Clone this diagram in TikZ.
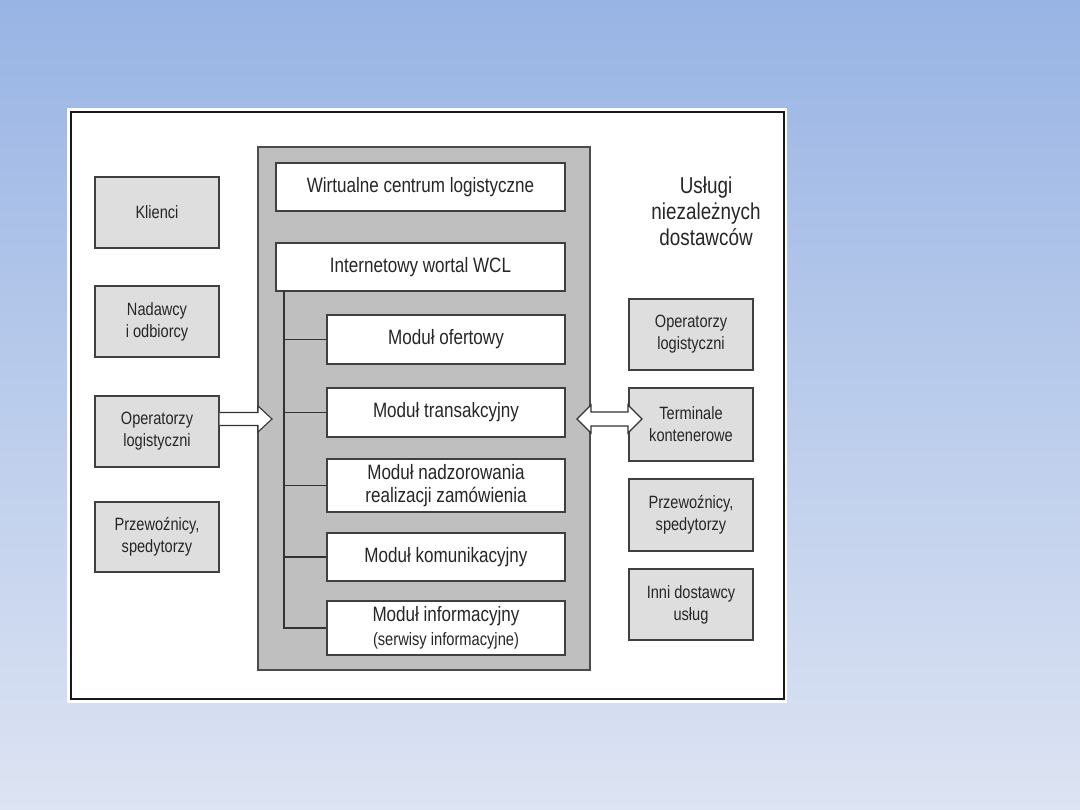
\documentclass[tikz,border=0pt]{standalone}
\usepackage{fontspec}
\setmainfont{Liberation Sans}[FakeStretch=0.82]
\begin{document}
\begin{tikzpicture}[x=1pt,y=-1pt,
  every node/.style={text=black!85},
  bigbox/.style={draw=black!75,line width=1.1pt,fill=white,inner sep=0pt,align=center,
    font=\fontsize{20.8}{23.5}\selectfont},
  sidebox/.style={draw=black!75,line width=1.1pt,fill=black!13,inner sep=0pt,align=center,
    minimum width=124pt,font=\fontsize{17.8}{22}\selectfont},
  conn/.style={draw=black!80,line width=1.1pt},
  hollow/.style={draw=black!80,line width=1.1pt,fill=white,line join=miter}]
\useasboundingbox (0,0) rectangle (1080,810);
% background gradient
\shade[top color={rgb,255:red,152;green,180;blue,228},bottom color={rgb,255:red,221;green,228;blue,243}] (0,0) rectangle (1080,810);
% white panel and frame
\fill[white] (67,108) rectangle (787,703);
\draw[black!90,line width=2pt] (71,112) rectangle (784,699);
% grey central panel
\draw[fill=black!25,draw=black!70,line width=1.1pt] (258,147) rectangle (590,670);
% central boxes
\node[bigbox,minimum width=289pt,minimum height=48pt] (wcl) at (420.5,187) {Wirtualne centrum logistyczne};
\node[bigbox,minimum width=289pt,minimum height=48pt] (portal) at (420.5,267) {Internetowy wortal WCL};
\node[bigbox,minimum width=238pt,minimum height=49pt] (m1) at (446,339.5) {Moduł ofertowy};
\node[bigbox,minimum width=238pt,minimum height=49pt] (m2) at (446,412.5) {Moduł transakcyjny};
\node[bigbox,minimum width=238pt,minimum height=53pt] (m3) at (446,485.5) {Moduł nadzorowania\\realizacji zamówienia};
\node[bigbox,minimum width=238pt,minimum height=48pt] (m4) at (446,557) {Moduł komunikacyjny};
\node[bigbox,minimum width=238pt,minimum height=54pt] (m5) at (446,628) {Moduł informacyjny\\{\fontsize{17.9}{20}\selectfont(serwisy informacyjne)}};
% tree
\coordinate (tt) at (284,291);
\draw[conn] (tt) -- (tt |- m5.west) -- (m5.west);
\draw[conn] (tt |- m1.west) -- (m1.west);
\draw[conn] (tt |- m2.west) -- (m2.west);
\draw[conn] (tt |- m3.west) -- (m3.west);
\draw[conn] (tt |- m4.west) -- (m4.west);
% left boxes
\node[sidebox,minimum height=71pt] (klienci) at (157,212.5) {Klienci};
\node[sidebox,minimum height=71pt] (nadawcy) at (157,321.5) {Nadawcy\\i odbiorcy};
\node[sidebox,minimum height=71pt] (opL) at (157,431.5) {Operatorzy\\logistyczni};
\node[sidebox,minimum height=70pt] (przL) at (157,537) {Przewoźnicy,\\spedytorzy};
% right heading
\node[align=center,font=\fontsize{23}{26}\selectfont] (uslugi) at (706,211) {Usługi\\niezależnych\\dostawców};
% right boxes
\node[sidebox,minimum height=71pt] (opR) at (691,334.5) {Operatorzy\\logistyczni};
\node[sidebox,minimum height=73pt] (term) at (691,424.5) {Terminale\\kontenerowe};
\node[sidebox,minimum height=72pt] (przR) at (691,515) {Przewoźnicy,\\spedytorzy};
\node[sidebox,minimum height=71pt] (inni) at (691,604.5) {Inni dostawcy\\usług};
% left single arrow (opL -> panel)
\draw[hollow] (opL.east |- 0,412.5) -- (258,412.5) -- (258,406) -- (272,419) -- (258,432) -- (258,425.5) -- (opL.east |- 0,425.5);
% right double arrow (panel <-> term)
\draw[hollow] (577,419) -- (591,405) -- (591,412) -- (628,412) -- (628,405) -- (642,419) -- (628,433) -- (628,426) -- (591,426) -- (591,433) -- cycle;
\end{tikzpicture}
\end{document}
